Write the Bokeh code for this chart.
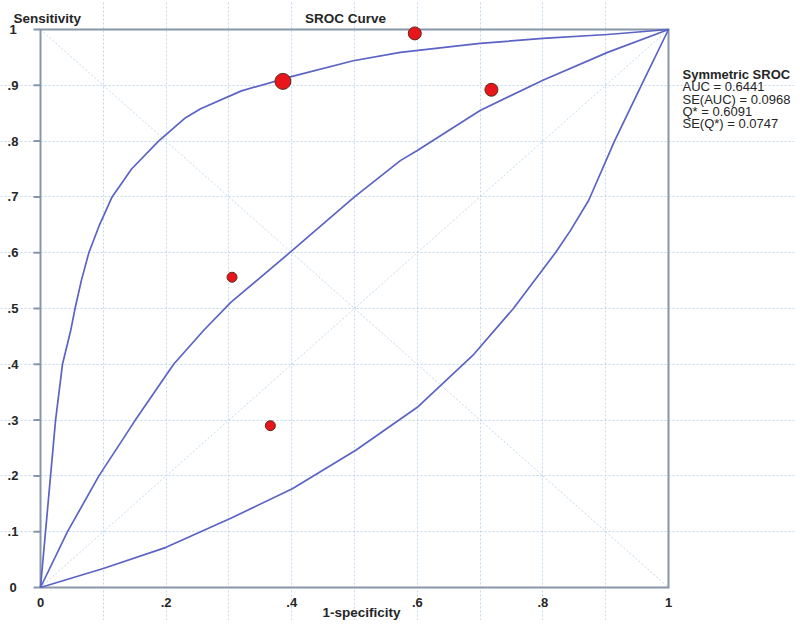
from bokeh.plotting import figure
from bokeh.models import Range1d, FixedTicker, Grid
from bokeh.core.properties import value
from bokeh.embed import file_html
from bokeh.resources import INLINE

# ---------------- data ----------------
# individual studies: (1-specificity, sensitivity) and relative weight
study_fpr = [0.596, 0.386, 0.718, 0.305, 0.366]
study_tpr = [0.993, 0.907, 0.892, 0.556, 0.290]
study_weight = [1.3, 1.6, 1.3, 1.0, 1.0]

# SROC curve
sroc_x = [0.0, 0.043, 0.093, 0.151, 0.212, 0.26, 0.303, 0.401, 0.50, 0.573, 0.60, 0.70, 0.80, 0.903, 1.0]
sroc_y = [0.0, 0.10, 0.20, 0.30, 0.40, 0.461, 0.511, 0.604, 0.70, 0.765, 0.783, 0.855, 0.909, 0.959, 1.0]

# upper confidence curve
upper_x = [0.0, 0.008, 0.016, 0.024, 0.035, 0.048, 0.055, 0.065, 0.077, 0.094, 0.114, 0.145, 0.188,
           0.231, 0.255, 0.32, 0.401, 0.498, 0.573, 0.70, 0.80, 0.903, 1.0]
upper_y = [0.0, 0.10, 0.20, 0.30, 0.40, 0.46, 0.50, 0.55, 0.60, 0.65, 0.70, 0.75, 0.80,
           0.842, 0.858, 0.89, 0.916, 0.944, 0.959, 0.975, 0.984, 0.991, 1.0]

# lower confidence curve
lower_x = [0.0, 0.10, 0.20, 0.303, 0.401, 0.502, 0.60, 0.69, 0.753, 0.82, 0.844, 0.873, 0.914, 0.955, 1.0]
lower_y = [0.0, 0.034, 0.072, 0.124, 0.177, 0.246, 0.323, 0.418, 0.50, 0.60, 0.64, 0.694, 0.80, 0.896, 1.0]

# reference diagonals / box (unit square)
sq_lo, sq_hi = 0.0, 1.0

x_ticks = [0, 0.2, 0.4, 0.6, 0.8, 1]
x_tick_labels = ["0", ".2", ".4", ".6", ".8", "1"]
y_ticks = [0, 0.1, 0.2, 0.3, 0.4, 0.5, 0.6, 0.7, 0.8, 0.9, 1]
y_tick_labels = ["0", ".1", ".2", ".3", ".4", ".5", ".6", ".7", ".8", ".9", "1"]
grid_ticks = [0.1, 0.2, 0.3, 0.4, 0.5, 0.6, 0.7, 0.8, 0.9]

title_text = "SROC Curve"
x_title = "1-specificity"
y_title = "Sensitivity"
stats_title = "Symmetric SROC"
stats_lines = ["AUC = 0.6441", "SE(AUC) = 0.0968", "Q* = 0.6091", "SE(Q*) = 0.0747"]

# ---------------- layout helpers ----------------
W, H = 796, 620          # canvas
OX, OY = 40, 587         # canvas pixel of data (0, 0)
UX, UY = 628, 558        # pixels per data unit

def px2x(px):            # canvas px -> data x
    return (px - OX) / UX

def px2y(py):            # canvas px (from top) -> data y
    return (OY - py) / UY

FONT = value("Liberation Sans")
TXT = "#262626"
AX = "#8796a8"
CURVE = "#5b63c4"
GRID = "#c3d8ee"

p = figure(width=W, height=H, x_axis_type=None, y_axis_type=None,
           x_range=Range1d(px2x(0), px2x(W)), y_range=Range1d(px2y(H), px2y(0)),
           min_border=0, output_backend="svg", toolbar_location=None,
           background_fill_color="white", border_fill_color="white", outline_line_color=None)

# grid
for dim in (0, 1):
    p.add_layout(Grid(dimension=dim, ticker=FixedTicker(ticks=grid_ticks), bounds=(sq_lo, sq_hi),
                      grid_line_color=GRID, grid_line_dash="2 2", grid_line_width=1))

# diagonals
p.line([sq_lo, sq_hi], [sq_lo, sq_hi], line_color=GRID, line_dash="2 2", line_width=1)
p.line([sq_lo, sq_hi], [sq_hi, sq_lo], line_color=GRID, line_dash="2 2", line_width=1)

# box / axis lines
p.line([sq_lo, sq_lo, sq_hi, sq_hi, sq_lo], [sq_lo, sq_hi, sq_hi, sq_lo, sq_lo],
       line_color=AX, line_width=2, line_join="miter")

# y tick marks (pointing out, 7px)
p.segment(x0=[px2x(OX - 7)] * len(y_ticks), x1=[sq_lo] * len(y_ticks), y0=y_ticks, y1=y_ticks,
          line_color=AX, line_width=2)

# tick labels
p.text(x=[px2x(OX - 27.5)] * len(y_ticks), y=y_ticks, text=y_tick_labels,
       text_font=FONT, text_font_size="13px", text_font_style="bold", text_color=TXT,
       text_align="center", text_baseline="middle")
p.text(x=x_ticks, y=[px2y(OY + 15)] * len(x_ticks), text=x_tick_labels,
       text_font=FONT, text_font_size="13px", text_font_style="bold", text_color=TXT,
       text_align="center", text_baseline="alphabetic")

# curves
p.line(upper_x, upper_y, line_color=CURVE, line_width=1.7, line_join="round")
p.line(sroc_x, sroc_y, line_color=CURVE, line_width=1.7, line_join="round")
p.line(lower_x, lower_y, line_color=CURVE, line_width=1.7, line_join="round")

# studies
p.scatter(study_fpr, study_tpr, size=[10 * w for w in study_weight],
          fill_color="#e8161b", line_color="#5a2a1e", line_width=1)

# titles
def txt(xp, yp, text, size="13.5px", bold=True, align="left"):
    p.text(x=[px2x(xp)], y=[px2y(yp)], text=[text], text_font=FONT, text_font_size=size,
           text_font_style="bold" if bold else "normal", text_color=TXT,
           text_align=align, text_baseline="alphabetic")

txt(13, 17.5, y_title)
txt(345, 17.5, title_text, align="center")
txt(322, 611.5, x_title)

txt(682, 74, stats_title, size="13px")
for i, t in enumerate(stats_lines):
    txt(682, 86.3 + 12.3 * i, t, size="13px", bold=False)

open("out.html", "w").write(file_html(p, INLINE))
